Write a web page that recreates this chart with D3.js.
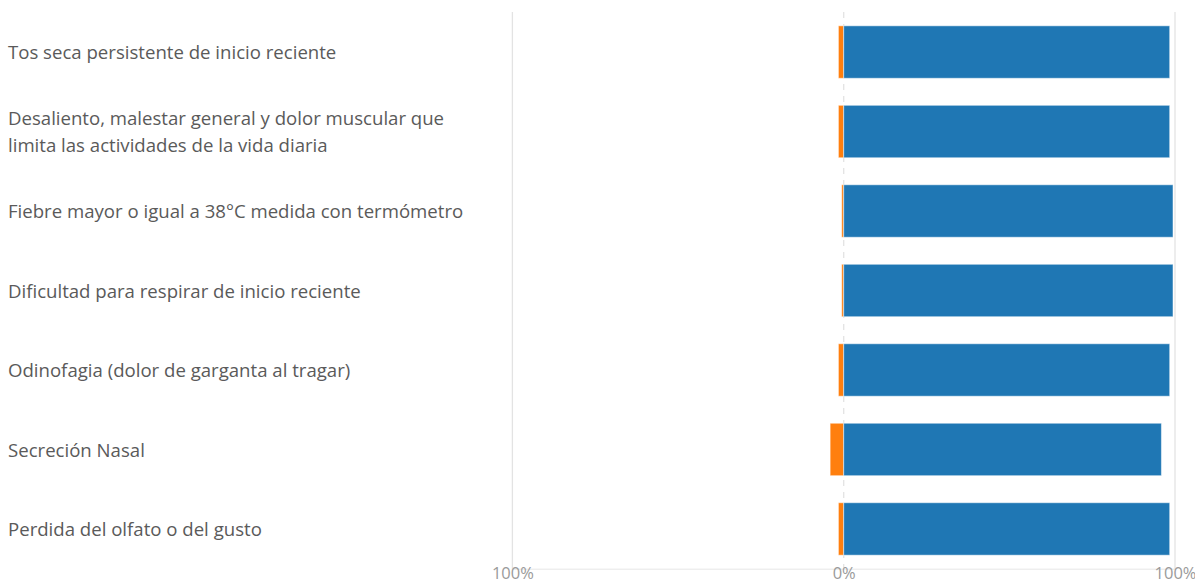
<!DOCTYPE html>
<html>
<head>
<meta charset="utf-8">
<script src="https://cdn.jsdelivr.net/npm/d3@7"></script>
<style>
  html, body { margin: 0; padding: 0; background: #fff; }
  svg { display: block; }
</style>
</head>
<body>
<svg id="chart" width="1195" height="585"></svg>
<script>
const categories = [
  "Tos seca persistente de inicio reciente",
  "Desaliento, malestar general y dolor muscular que limita las actividades de la vida diaria",
  "Fiebre mayor o igual a 38°C medida con termómetro",
  "Dificultad para respirar de inicio reciente",
  "Odinofagia (dolor de garganta al tragar)",
  "Secreción Nasal",
  "Perdida del olfato o del gusto"
];
const negValues = [1.6, 1.6, 0.6, 0.6, 1.6, 4.1, 1.6];     // orange, left of zero
const posValues = [98.4, 98.4, 99.4, 99.4, 98.4, 95.9, 98.4]; // blue, right of zero
const tickValues = [-100, 0, 100];
const tickLabels = ["100%", "0%", "100%"];

const svg = d3.select("#chart");
const x = d3.scaleLinear().domain([-100, 100]).range([512.4, 1175]);
const y = d3.scaleBand().domain(categories).range([12.3, 568.7]).paddingInner(0.34).paddingOuter(0.17);

// gridlines
svg.append("g").selectAll("line").data(tickValues).join("line")
  .attr("x1", d => x(d)).attr("x2", d => x(d))
  .attr("y1", 12).attr("y2", 568.7)
  .attr("stroke", "#e3e3e3").attr("stroke-width", 1.3)
  .attr("stroke-dasharray", d => d === 0 ? "6,6" : null);

// bottom axis
const axis = d3.axisBottom(x).tickValues(tickValues).tickSize(0)
  .tickFormat((d, i) => tickLabels[i]);
const ag = svg.append("g").attr("transform", "translate(0,568.7)").call(axis);
ag.select(".domain").attr("stroke", "#e6e6e6");
ag.selectAll("text").attr("fill", "#9a9a9a").attr("font-family", "'Open Sans', sans-serif")
  .attr("font-size", 16.5).attr("dy", "0.42em");

// bars
const rows = svg.append("g").selectAll("g").data(categories).join("g");
rows.append("rect")
  .attr("x", (d, i) => x(-negValues[i]))
  .attr("width", (d, i) => x(0) - x(-negValues[i]))
  .attr("y", d => y(d)).attr("height", y.bandwidth())
  .attr("fill", "#ff7f0e").attr("stroke", "rgba(255,255,255,0.5)").attr("stroke-width", 1);
rows.append("rect")
  .attr("x", x(0))
  .attr("width", (d, i) => x(posValues[i]) - x(0))
  .attr("y", d => y(d)).attr("height", y.bandwidth())
  .attr("fill", "#1f77b4").attr("stroke", "rgba(255,255,255,0.5)").attr("stroke-width", 1);

// labels with wrapping
const maxW = 475, lineH = 27;
const labels = svg.append("g").selectAll("text").data(categories).join("text")
  .attr("x", 8)
  .attr("font-family", "'Open Sans', sans-serif").attr("font-size", 18.6)
  .attr("fill", "#5a5a5a");
labels.each(function(d) {
  const t = d3.select(this);
  const words = d.split(" ");
  let lines = [], line = [];
  const tmp = t.append("tspan");
  words.forEach(w => {
    const test = line.concat([w]).join(" ");
    tmp.text(test);
    if (tmp.node().getComputedTextLength() > maxW && line.length) {
      lines.push(line.join(" "));
      line = [w];
    } else line.push(w);
  });
  lines.push(line.join(" "));
  tmp.remove();
  const cy = y(d) + y.bandwidth() / 2;
  const y0 = cy - (lines.length - 1) * lineH / 2;
  lines.forEach((l, k) => {
    t.append("tspan").attr("x", 8).attr("y", y0 + k * lineH).attr("dy", "0.38em").text(l);
  });
});
</script>
</body>
</html>
